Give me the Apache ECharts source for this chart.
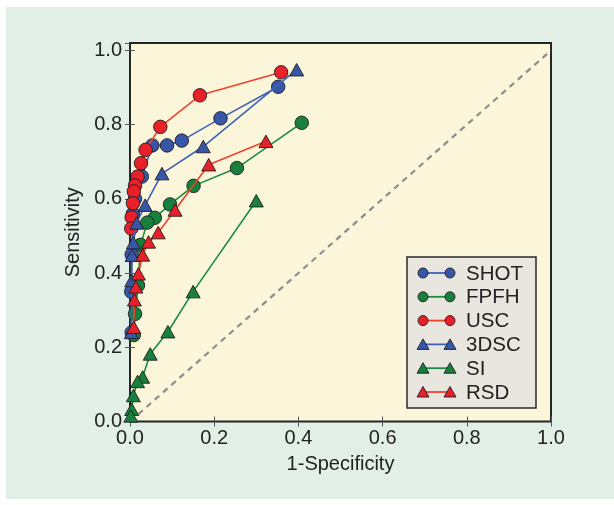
<!DOCTYPE html>
<html>
<head>
<meta charset="utf-8">
<script src="https://cdn.jsdelivr.net/npm/echarts@6/dist/echarts.min.js"></script>
<style>
html,body{margin:0;padding:0;background:#ffffff;}
#chart{width:614px;height:505px;}
</style>
</head>
<body>
<div id="chart"></div>
<script>
// ---- data ----
const seriesNames = ['SHOT', 'FPFH', 'USC', '3DSC', 'SI', 'RSD'];
const xTicks = [0, 0.2, 0.4, 0.6, 0.8, 1.0];
const yTicks = [0, 0.2, 0.4, 0.6, 0.8, 1.0];

const shotData = [[0.352,0.902],[0.215,0.817],[0.123,0.757],[0.088,0.744],[0.053,0.744],[0.028,0.660],[0.012,0.600],[0.007,0.560],[0.004,0.450],[0.003,0.350],[0.004,0.240]];
const fpfhData = [[0.408,0.805],[0.254,0.683],[0.151,0.635],[0.095,0.585],[0.059,0.549],[0.041,0.536],[0.025,0.476],[0.019,0.367],[0.012,0.290],[0.009,0.233]];
const uscData  = [[0.359,0.941],[0.166,0.879],[0.072,0.794],[0.037,0.732],[0.026,0.696],[0.018,0.660],[0.012,0.636],[0.009,0.620],[0.007,0.588],[0.004,0.550],[0.003,0.520]];
const dscData  = [[0.396,0.948],[0.174,0.741],[0.076,0.668],[0.036,0.583],[0.016,0.535],[0.008,0.482],[0.005,0.448],[0.004,0.380],[0.003,0.240]];
const siData   = [[0.300,0.595],[0.150,0.350],[0.090,0.242],[0.048,0.182],[0.030,0.120],[0.018,0.108],[0.008,0.070],[0.004,0.033],[0.002,0.015]];
const rsdData  = [[0.323,0.755],[0.187,0.692],[0.107,0.570],[0.067,0.509],[0.044,0.484],[0.030,0.449],[0.020,0.398],[0.014,0.363],[0.0105,0.328],[0.009,0.254]];
const diagData = [[0,0],[1,1]];

const seriesData = [shotData, fpfhData, uscData, dscData, siData, rsdData];
const markerFill = ['#3856a8', '#17803c', '#e8202a', '#3856a8', '#17803c', '#e8202a'];
const lineColor  = ['#3d62b8', '#1c8c42', '#f0412e', '#3d62b8', '#1c8c42', '#f0412e'];
const symbols    = ['circle', 'circle', 'circle', 'triangle', 'triangle', 'triangle'];

const FONT = '"Liberation Sans", Arial, Helvetica, sans-serif';
const chart = echarts.init(document.getElementById('chart'), null, {renderer: 'canvas'});

function tickFmt(v) {
  for (const t of xTicks) if (Math.abs(v - t) < 1e-6) return t.toFixed(1);
  return '';
}

const series = [{
  type: 'line', data: diagData, showSymbol: false, symbol: 'none', silent: true, z: 1,
  lineStyle: {color: '#8c8c8c', width: 2.2, type: [6, 5]}
}];
seriesData.forEach((d, i) => {
  series.push({
    name: seriesNames[i], type: 'line', data: d, z: 2 + i,
    symbol: symbols[i],
    symbolSize: symbols[i] === 'circle' ? 13.5 : [14, 12.5],
    lineStyle: {color: lineColor[i], width: 1.6},
    itemStyle: {color: markerFill[i], borderColor: '#1e1e1e', borderWidth: 0.9},
    emphasis: {disabled: true}, animation: false
  });
});

// legend drawn as graphics (matplotlib-style marker-line-marker)
const legendItems = [];
const lgLeft = 407, lgTop = 257, lgW = 129, lgH = 151, lgStep = 23.8, lgY0 = 273;
legendItems.push({type: 'rect', shape: {x: lgLeft, y: lgTop, width: lgW, height: lgH},
  style: {fill: '#e9e5df', stroke: '#2a2a2a', lineWidth: 1.5}, z: 100});
seriesNames.forEach((n, i) => {
  const y = lgY0 + i * lgStep;
  const x1 = 423, x2 = 450;
  legendItems.push({type: 'line', shape: {x1: x1, y1: y, x2: x2, y2: y},
    style: {stroke: lineColor[i], lineWidth: 1.8}, z: 101});
  [x1, x2].forEach(x => {
    if (symbols[i] === 'circle') {
      legendItems.push({type: 'circle', shape: {cx: x, cy: y, r: 5},
        style: {fill: markerFill[i], stroke: '#1e1e1e', lineWidth: 0.9}, z: 102});
    } else {
      legendItems.push({type: 'polygon', shape: {points: [[x, y - 5.5], [x + 6, y + 5], [x - 6, y + 5]]},
        style: {fill: markerFill[i], stroke: '#1e1e1e', lineWidth: 0.9}, z: 102});
    }
  });
  legendItems.push({type: 'text', x: 466, y: y + 1, z: 103,
    style: {text: n, fill: '#222', font: '20.5px ' + FONT, textVerticalAlign: 'middle', verticalAlign: 'middle'}});
});

const option = {
  backgroundColor: '#ffffff',
  animation: false,
  graphic: [
    {type: 'rect', shape: {x: 6, y: 7, width: 608, height: 492}, style: {fill: '#e1efe6'}, z: -10, silent: true},
    ...legendItems
  ],
  grid: {left: 130, top: 43, right: 63, bottom: 83.5, show: true, backgroundColor: '#fbf6da',
    borderColor: '#262626', borderWidth: 2},
  xAxis: [{
    type: 'value', min: 0, max: 1.0, interval: 0.2, position: 'bottom',
    name: '1-Specificity', nameLocation: 'middle', nameGap: 33,
    nameTextStyle: {fontSize: 20, color: '#222', fontFamily: FONT},
    axisLine: {show: false}, splitLine: {show: false},
    axisTick: {inside: true, length: 5, lineStyle: {color: '#555', width: 1}},
    axisLabel: {fontSize: 20, color: '#222', fontFamily: FONT, margin: 7, formatter: tickFmt}
  }, {
    type: 'value', min: 0, max: 1.0, interval: 0.2, position: 'top',
    axisLine: {show: false}, splitLine: {show: false}, axisLabel: {show: false},
    axisTick: {inside: true, length: 5, lineStyle: {color: '#555', width: 1}}
  }],
  yAxis: [{
    type: 'value', min: 0, max: 1.02, interval: 0.2, position: 'left',
    name: 'Sensitivity', nameLocation: 'middle', nameGap: 46, nameRotate: 90,
    nameTextStyle: {fontSize: 20, color: '#222', fontFamily: FONT},
    axisLine: {show: false}, splitLine: {show: false},
    axisTick: {inside: true, length: 5, lineStyle: {color: '#555', width: 1}},
    axisLabel: {fontSize: 20, color: '#222', fontFamily: FONT, margin: 8, formatter: tickFmt, showMaxLabel: false}
  }, {
    type: 'value', min: 0, max: 1.02, interval: 0.2, position: 'right',
    axisLine: {show: false}, splitLine: {show: false}, axisLabel: {show: false},
    axisTick: {inside: true, length: 5, lineStyle: {color: '#555', width: 1}}
  }],
  series: series
};
chart.setOption(option);
</script>
</body>
</html>
